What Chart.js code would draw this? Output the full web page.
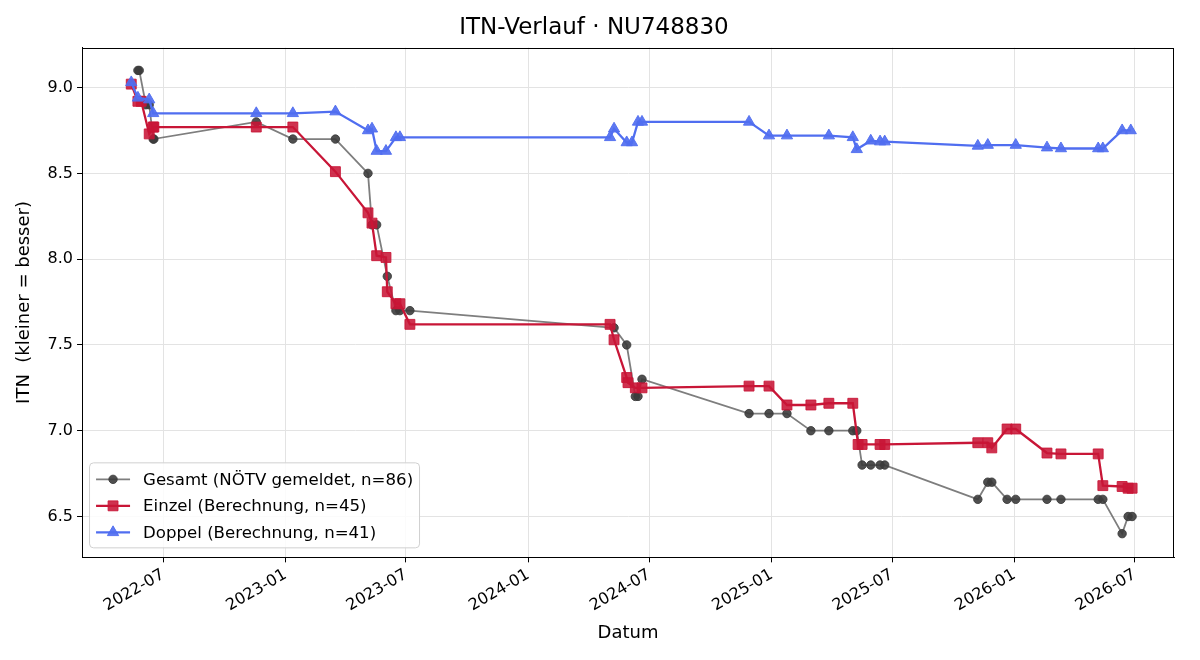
<!DOCTYPE html>
<html lang="de">
  <head>
    <meta charset="UTF-8" />
    <title>ITN-Verlauf</title>
    <script src="https://cdn.jsdelivr.net/npm/chart.js"></script>
    <style>
      body { margin: 0; background: #fff; }
      .chart-container { width: 1200px; height: 660px; position: relative; }
    </style>
  </head>
  <body>
    <div class="chart-container">
      <canvas id="itnChart"></canvas>
    </div>

    <script>
      const chartTitle = "ITN-Verlauf · NU748830";
      const xTickLabels = ["2022-07", "2023-01", "2023-07", "2024-01", "2024-07", "2025-01", "2025-07", "2026-01", "2026-07"];
      const yTickValues = [6.5, 7.0, 7.5, 8.0, 8.5, 9.0];
      const seriesNames = ["Gesamt (NÖTV gemeldet, n=86)", "Einzel (Berechnung, n=45)", "Doppel (Berechnung, n=41)"];

      const gesamtDates = [
        "2022-05-24", "2022-05-26", "2022-06-05", "2022-06-10", "2022-06-16", "2022-06-17",
        "2022-11-18", "2023-01-12", "2023-03-17", "2023-05-05", "2023-05-11", "2023-05-18", "2023-06-03",
        "2023-06-16", "2023-06-22", "2023-07-07", "2024-05-09", "2024-05-28", "2024-06-10", "2024-06-14",
        "2024-06-20", "2024-11-28", "2024-12-28", "2025-01-24", "2025-03-01", "2025-03-28", "2025-05-03",
        "2025-05-09", "2025-05-17", "2025-05-30", "2025-06-13", "2025-06-20", "2025-11-07", "2025-11-22",
        "2025-11-28", "2025-12-21", "2026-01-03", "2026-02-19", "2026-03-12", "2026-05-07", "2026-05-14",
        "2026-06-12", "2026-06-21", "2026-06-27"
      ];
      const gesamtValues = [
        9.1, 9.1, 8.9, 8.9, 8.7, 8.7,
        8.8, 8.7, 8.7, 8.5, 8.2, 8.2, 7.9,
        7.7, 7.7, 7.7, 7.6, 7.5, 7.2, 7.2,
        7.3, 7.1, 7.1, 7.1, 7.0, 7.0, 7.0,
        7.0, 6.8, 6.8, 6.8, 6.8, 6.6, 6.7,
        6.7, 6.6, 6.6, 6.6, 6.6, 6.6, 6.6,
        6.4, 6.5, 6.5
      ];

      const einzelDates = [
        "2022-05-14", "2022-05-24", "2022-05-29", "2022-06-10", "2022-06-16", "2022-06-17", "2022-11-18",
        "2023-01-12", "2023-03-17", "2023-05-05", "2023-05-11", "2023-05-18", "2023-06-01", "2023-06-03",
        "2023-06-16", "2023-06-22", "2023-07-07", "2024-05-03", "2024-05-09", "2024-05-28", "2024-05-30",
        "2024-06-10", "2024-06-20", "2024-11-28", "2024-12-28", "2025-01-24", "2025-03-01", "2025-03-28",
        "2025-05-03", "2025-05-11", "2025-05-17", "2025-06-13", "2025-06-20", "2025-11-07", "2025-11-22",
        "2025-11-28", "2025-12-21", "2026-01-03", "2026-02-19", "2026-03-12", "2026-05-07", "2026-05-14",
        "2026-06-12", "2026-06-21", "2026-06-27"
      ];
      const einzelValues = [
        9.02, 8.92, 8.92, 8.73, 8.77, 8.77, 8.77,
        8.77, 8.51, 8.27, 8.21, 8.02, 8.01, 7.81,
        7.74, 7.74, 7.62, 7.62, 7.53, 7.31, 7.28,
        7.25, 7.25, 7.26, 7.26, 7.15, 7.15, 7.16,
        7.16, 6.92, 6.92, 6.92, 6.92, 6.93, 6.93,
        6.90, 7.01, 7.01, 6.87, 6.865, 6.865, 6.68,
        6.675, 6.665, 6.665
      ];

      const doppelDates = [
        "2022-05-14", "2022-05-24", "2022-06-10", "2022-06-16", "2022-11-18", "2023-01-12", "2023-03-17",
        "2023-05-05", "2023-05-11", "2023-05-18", "2023-06-01", "2023-06-16", "2023-06-22", "2024-05-03",
        "2024-05-09", "2024-05-28", "2024-06-05", "2024-06-14", "2024-06-20", "2024-11-28", "2024-12-28",
        "2025-01-24", "2025-03-28", "2025-05-03", "2025-05-09", "2025-05-30", "2025-06-13", "2025-06-20",
        "2025-11-07", "2025-11-22", "2026-01-03", "2026-02-19", "2026-03-12", "2026-05-07", "2026-05-14",
        "2026-06-12", "2026-06-25"
      ];
      const doppelValues = [
        9.03, 8.94, 8.93, 8.85, 8.85, 8.85, 8.86,
        8.75, 8.76, 8.63, 8.63, 8.71, 8.71, 8.71,
        8.76, 8.68, 8.68, 8.80, 8.80, 8.80, 8.72,
        8.72, 8.72, 8.71, 8.64, 8.69, 8.685, 8.685,
        8.66, 8.665, 8.665, 8.65, 8.645, 8.645, 8.645,
        8.75, 8.75
      ];

      const xMin = Date.parse("2022-03-01");
      const xMax = Date.parse("2026-08-29");
      const yMin = 6.262;
      const yMax = 9.233;

      const toPoints = (dates, values) =>
        dates.map((d, i) => ({ x: Date.parse(d), y: values[i] }));

      const gray = { line: "rgba(90, 90, 90, 0.78)", point: "rgba(60, 60, 60, 0.9)" };
      const red = { line: "rgb(200, 22, 55)", point: "rgba(200, 22, 55, 0.88)" };
      const blue = { line: "rgb(80, 110, 240)", point: "rgba(80, 110, 240, 0.92)" };

      const styles = [
        { color: gray, pointStyle: "circle", radius: 4.2, width: 1.8 },
        { color: red, pointStyle: "rect", radius: 7, width: 2.3 },
        { color: blue, pointStyle: "triangle", radius: 6.5, width: 2.3 },
      ];

      Chart.defaults.font.family = "'DejaVu Sans', sans-serif";
      Chart.defaults.color = "#000";

      // frame + legend inside the plot, like matplotlib
      const framePlugin = {
        id: "frameAndLegend",
        afterDatasetsDraw(chart) {
          const { ctx, chartArea: a } = chart;
          ctx.save();
          ctx.strokeStyle = "#000";
          ctx.lineWidth = 1;
          ctx.strokeRect(Math.round(a.left) + 0.5, Math.round(a.top) + 0.5,
            Math.round(a.right - a.left) - 1, Math.round(a.bottom - a.top) - 1);

          const bx = a.left + 7, by = a.bottom - 95, bw = 330, bh = 85;
          ctx.beginPath();
          ctx.roundRect(bx + 0.5, by + 0.5, bw, bh, 4);
          ctx.fillStyle = "rgba(255,255,255,0.85)";
          ctx.fill();
          ctx.strokeStyle = "#d0d0d0";
          ctx.stroke();

          ctx.font = "16.6px 'DejaVu Sans'";
          ctx.textBaseline = "middle";
          seriesNames.forEach((name, i) => {
            const s = styles[i];
            const y = by + 17 + i * 26.5;
            ctx.beginPath();
            ctx.moveTo(bx + 7, y);
            ctx.lineTo(bx + 41, y);
            ctx.strokeStyle = s.color.line;
            ctx.lineWidth = s.width;
            ctx.stroke();
            ctx.fillStyle = s.color.point;
            ctx.strokeStyle = s.color.point;
            ctx.lineWidth = 1;
            Chart.helpers.drawPoint(ctx, { pointStyle: s.pointStyle, radius: s.radius, borderWidth: 1 }, bx + 24, y);
            ctx.fillStyle = "#000";
            ctx.fillText(name, bx + 54, y + 1);
          });
          ctx.restore();
        },
      };

      const series = [
        toPoints(gesamtDates, gesamtValues),
        toPoints(einzelDates, einzelValues),
        toPoints(doppelDates, doppelValues),
      ];

      const ctx = document.getElementById("itnChart").getContext("2d");
      new Chart(ctx, {
        type: "line",
        data: {
          datasets: series.map((pts, i) => ({
            label: seriesNames[i],
            data: pts,
            borderColor: styles[i].color.line,
            borderWidth: styles[i].width,
            backgroundColor: styles[i].color.point,
            pointBackgroundColor: styles[i].color.point,
            pointBorderColor: styles[i].color.point,
            pointBorderWidth: 1,
            pointStyle: styles[i].pointStyle,
            pointRadius: styles[i].radius,
            tension: 0,
            order: 2 - i,
          })),
        },
        options: {
          responsive: true,
          maintainAspectRatio: false,
          animation: false,
          layout: { padding: { left: 14, right: 26, top: 0, bottom: 16 } },
          plugins: {
            legend: { display: false },
            tooltip: { enabled: false },
            title: {
              display: true,
              text: chartTitle,
              font: { size: 23, weight: "normal" },
              padding: { top: 14, bottom: 6 },
            },
          },
          scales: {
            x: {
              type: "linear",
              min: xMin,
              max: xMax,
              afterBuildTicks(scale) {
                scale.ticks = xTickLabels.map((t) => ({ value: Date.parse(t + "-01") }));
              },
              ticks: {
                font: { size: 16 },
                minRotation: 30,
                maxRotation: 30,
                padding: 3,
                callback(v) {
                  const d = new Date(v);
                  return d.getUTCFullYear() + "-" + String(d.getUTCMonth() + 1).padStart(2, "0");
                },
              },
              grid: { color: "#e3e3e3", tickColor: "#000", tickLength: 5 },
              border: { color: "#000", width: 1 },
              title: { display: true, text: "Datum", font: { size: 18 }, padding: { top: 4, bottom: 0 } },
            },
            y: {
              type: "linear",
              min: yMin,
              max: yMax,
              afterBuildTicks(scale) {
                scale.ticks = yTickValues.map((v) => ({ value: v }));
              },
              ticks: {
                font: { size: 16 },
                padding: 4,
                callback: (v) => Number(v).toFixed(1),
              },
              grid: { color: "#e3e3e3", tickColor: "#000", tickLength: 5 },
              border: { color: "#000", width: 1 },
              title: { display: true, text: "ITN  (kleiner = besser)", font: { size: 18 }, padding: { top: 0, bottom: 8 } },
            },
          },
        },
        plugins: [framePlugin],
      });
    </script>
  </body>
</html>
